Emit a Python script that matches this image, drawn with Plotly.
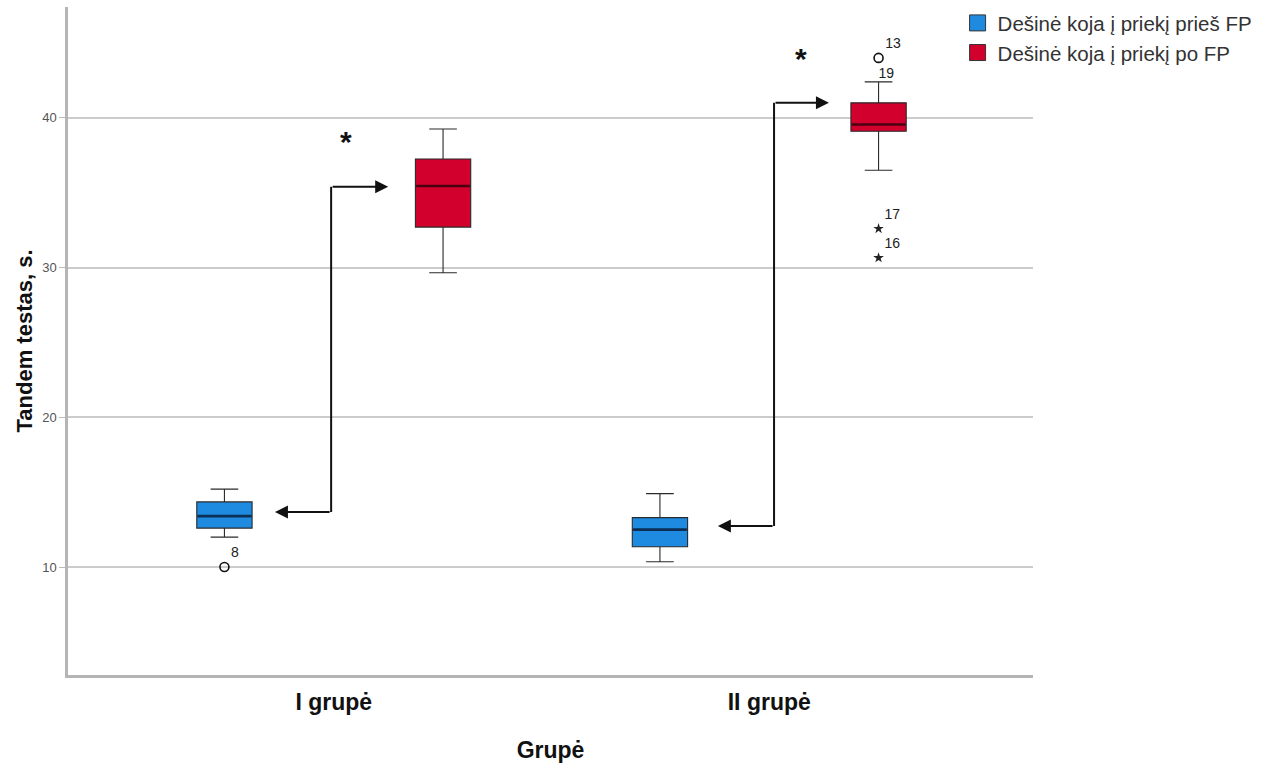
import plotly.graph_objects as go

# ---- data ----
groups = ["I grupė", "II grupė"]
series_names = ["Dešinė koja į priekį prieš FP", "Dešinė koja į priekį po FP"]

before_lower = [12.0, 10.35]
before_q1 = [12.6, 11.35]
before_median = [13.4, 12.5]
before_q3 = [14.35, 13.3]
before_upper = [15.2, 14.9]

after_lower = [29.65, 36.5]
after_q1 = [32.7, 39.1]
after_median = [35.45, 39.55]
after_q3 = [37.25, 41.0]
after_upper = [39.25, 42.4]

# outliers: (group index, value, case label)
before_out_group = [0]
before_out_val = [10.0]
before_out_lbl = ["8"]

after_out_group = [1]
after_out_val = [44.0]
after_out_lbl = ["13"]

after_extreme_group = [1, 1]
after_extreme_val = [32.6, 30.65]
after_extreme_lbl = ["17", "16"]

after_max_label_group = [1]
after_max_label_val = [42.4]
after_max_label = ["19"]

# significance arrows: (group, low value, high value)
sig_low = [13.67, 12.74]
sig_high = [35.39, 41.0]
sig_star = [38.4, 43.94]

# ---- styling / layout ----
OFF = 0.251
BW = 0.127
BLUE = "#1e8be0"
RED = "#d1002c"
FONT = "Arial, Liberation Sans, sans-serif"

idx = list(range(len(groups)))
xb = [i - OFF for i in idx]
xa = [i + OFF for i in idx]

fig = go.Figure()

fig.add_trace(go.Box(
    x=xb, q1=before_q1, median=before_median, q3=before_q3,
    lowerfence=before_lower, upperfence=before_upper,
    width=BW, whiskerwidth=0.5, boxpoints=False,
    fillcolor=BLUE, line=dict(color="#2a2a2a", width=1.1),
    name=series_names[0], showlegend=False, hoverinfo="skip"))
fig.add_trace(go.Box(
    x=xa, q1=after_q1, median=after_median, q3=after_q3,
    lowerfence=after_lower, upperfence=after_upper,
    width=BW, whiskerwidth=0.5, boxpoints=False,
    fillcolor=RED, line=dict(color="#2a2a2a", width=1.1),
    name=series_names[1], showlegend=False, hoverinfo="skip"))

# legend entries (square swatches)
for nm, col in zip(series_names, [BLUE, RED]):
    fig.add_trace(go.Scatter(x=[None], y=[None], mode="markers", name=nm,
                             marker=dict(symbol="square", size=16, color=col,
                                         line=dict(color="#333", width=1))))

# thicker median lines
for xs, meds, col in [(xb, before_median, "#0b2f55"), (xa, after_median, "#4a0010")]:
    mx, my = [], []
    for x, m in zip(xs, meds):
        mx += [x - BW / 2 + 0.002, x + BW / 2 - 0.002, None]
        my += [m, m, None]
    fig.add_trace(go.Scatter(x=mx, y=my, mode="lines", line=dict(color=col, width=2.6),
                             showlegend=False, hoverinfo="skip"))

# outliers
fig.add_trace(go.Scatter(
    x=[i - OFF for i in before_out_group], y=before_out_val, mode="markers+text",
    marker=dict(symbol="circle-open", size=9, color="#111", line=dict(width=1.6)),
    text=before_out_lbl, textposition="top right",
    textfont=dict(size=14, color="#222", family=FONT), showlegend=False, hoverinfo="skip"))
fig.add_trace(go.Scatter(
    x=[i + OFF for i in after_out_group], y=after_out_val, mode="markers+text",
    marker=dict(symbol="circle-open", size=9, color="#111", line=dict(width=1.6)),
    text=after_out_lbl, textposition="top right",
    textfont=dict(size=14, color="#222", family=FONT), showlegend=False, hoverinfo="skip"))
fig.add_trace(go.Scatter(
    x=[i + OFF for i in after_extreme_group], y=after_extreme_val, mode="markers+text",
    marker=dict(symbol="star", size=8, color="#222"),
    text=after_extreme_lbl, textposition="top right",
    textfont=dict(size=14, color="#222", family=FONT), showlegend=False, hoverinfo="skip"))
fig.add_trace(go.Scatter(
    x=[i + OFF for i in after_max_label_group], y=after_max_label_val, mode="text",
    text=after_max_label, textposition="top right",
    textfont=dict(size=14, color="#222", family=FONT), showlegend=False, hoverinfo="skip"))

# significance arrows
shapes = []
annotations = []
vx = [-0.006, 1.011]
left_tip = [-0.135, 0.882]
right_tip = [0.125, 1.137]
star_x = [0.028, 1.073]
for g in idx:
    shapes.append(dict(type="line", xref="x", yref="y", x0=vx[g], x1=vx[g],
                       y0=sig_low[g], y1=sig_high[g], line=dict(color="#111", width=2)))
    annotations.append(dict(x=left_tip[g], y=sig_low[g], ax=vx[g], ay=sig_low[g],
                            xref="x", yref="y", axref="x", ayref="y", text="",
                            showarrow=True, arrowhead=2, arrowsize=1.3, arrowwidth=2,
                            arrowcolor="#111"))
    annotations.append(dict(x=right_tip[g], y=sig_high[g], ax=vx[g], ay=sig_high[g],
                            xref="x", yref="y", axref="x", ayref="y", text="",
                            showarrow=True, arrowhead=2, arrowsize=1.3, arrowwidth=2,
                            arrowcolor="#111"))
    annotations.append(dict(x=star_x[g], y=sig_star[g], xref="x", yref="y", text="<b>*</b>",
                            showarrow=False, font=dict(size=30, color="#111", family=FONT)))

fig.update_layout(
    width=1270, height=767,
    margin=dict(l=68, r=237, t=7, b=92, autoexpand=False),
    paper_bgcolor="white", plot_bgcolor="white",
    font=dict(family=FONT, color="#222"),
    shapes=shapes, annotations=annotations,
    showlegend=True,
    legend=dict(x=0.754, y=0.996, xref="container", yref="container",
                xanchor="left", yanchor="top",
                font=dict(size=20.5, color="#333", family=FONT),
                bgcolor="rgba(0,0,0,0)", tracegroupgap=0, itemwidth=30),
    xaxis=dict(range=[-0.6102, 1.6056], tickvals=idx,
               ticktext=["<b>" + g + "</b>" for g in groups],
               tickfont=dict(size=23, color="#111", family=FONT),
               showgrid=False, zeroline=False, showline=True, linecolor="#b5b5b5",
               linewidth=2.5, ticks="", ticklabelstandoff=5,
               title=dict(text="<b>Grupė</b>", font=dict(size=23, color="#111", family=FONT),
                          standoff=28)),
    yaxis=dict(range=[2.79, 47.4], tickvals=[10, 20, 30, 40],
               tickfont=dict(size=13, color="#555", family=FONT),
               showgrid=True, gridcolor="#cccccc", gridwidth=1.5, zeroline=False,
               showline=True, linecolor="#b5b5b5", linewidth=2.5,
               ticks="outside", ticklen=6, tickcolor="#bbbbbb",
               title=dict(text="<b>Tandem testas, s.</b>",
                          font=dict(size=22, color="#111", family=FONT), standoff=4)),
)

fig.write_html("out.html")
